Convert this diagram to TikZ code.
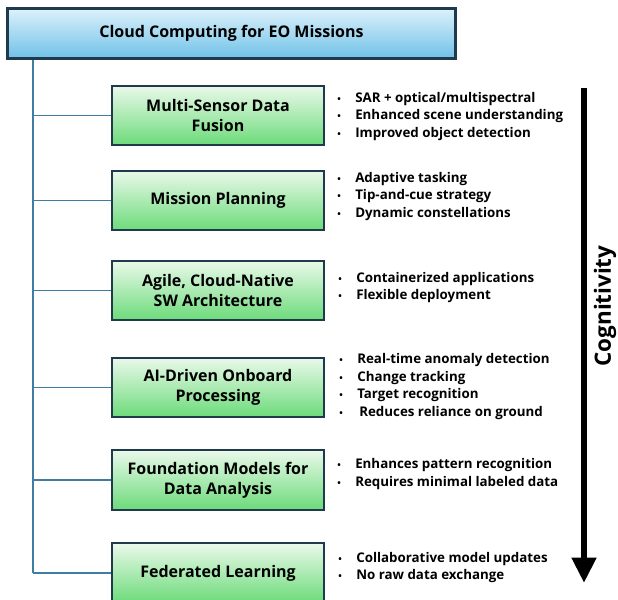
\documentclass[tikz,border=0pt]{standalone}
\usepackage{fontspec}
\setmainfont{Open Sans}
\usetikzlibrary{arrows.meta}
\definecolor{boxline}{HTML}{1E3A4C}
\definecolor{trunkline}{HTML}{3F7DA3}
\definecolor{bluetop}{HTML}{DDF1FB}
\definecolor{bluebot}{HTML}{6FC1E8}
\definecolor{greentop}{HTML}{EAF9EA}
\definecolor{greenbot}{HTML}{6CDB7A}
\newcommand{\itm}{\makebox[13.5pt][l]{\fontsize{7}{7}\selectfont\textbullet}}
\tikzset{
  topbox/.style={draw=boxline,line width=1.6pt,top color=bluetop,bottom color=bluebot,
    minimum width=336pt,minimum height=37.5pt,font=\bfseries\fontsize{12}{12}\selectfont},
  taskbox/.style={draw=boxline,line width=1.5pt,top color=greentop,bottom color=greenbot,
    minimum width=159.5pt,minimum height=44.5pt,align=center,font=\bfseries\fontsize{12}{15}\selectfont},
  points/.style={anchor=west,align=left,inner sep=0pt,font=\bfseries\fontsize{10}{13.1}\selectfont},
  branch/.style={draw=trunkline,line width=1.1pt}
}
\begin{document}
\begin{tikzpicture}[x=0.75pt,y=-0.75pt]
  \useasboundingbox (0,0) rectangle (618,600);
  \clip (0,0) rectangle (618,600);
  % kopf
  \node[topbox] (cloud) at (231.5,33.5) {Cloud Computing for EO Missions};
  % aufgaben
  \node[taskbox] (fusion)   at (218,115.5) {Multi-Sensor Data\\Fusion};
  \node[taskbox] (planning) at (218,200.5) {Mission Planning};
  \node[taskbox] (arch)     at (218,290.5) {Agile, Cloud-Native\\SW Architecture};
  \node[taskbox] (onboard)  at (218,387.5) {AI-Driven Onboard\\Processing};
  \node[taskbox] (found)    at (218,480)   {Foundation Models for\\Data Analysis};
  \node[taskbox] (fedlearn) at (218,573)   {Federated Learning};
  % stamm
  \coordinate (trunk) at (33,59);
  \draw[branch] (cloud.south -| trunk) -- (fedlearn.west -| trunk);
  \foreach \n in {fusion,planning,arch,onboard,found,fedlearn}
    \draw[branch] (\n.west -| trunk) -- (\n.west);
  % stichpunkte
  \node[points] (fusionlist) at (337,116.5) {\itm SAR + optical/multispectral\\\itm Enhanced scene understanding\\\itm Improved object detection};
  \node[points] (planlist) at (337,196.5) {\itm Adaptive tasking\\\itm Tip-and-cue strategy\\\itm Dynamic constellations};
  \node[points] (archlist) at (338,287.5) {\itm Containerized applications\\\itm Flexible deployment};
  \node[points] (onboardlist) at (339,386.5) {\itm Real-time anomaly detection\\\itm Change tracking\\\itm Target recognition\\\itm\hspace{1.5pt}Reduces reliance on ground};
  \node[points] (foundlist) at (337,474) {\itm Enhances pattern recognition\\\itm Requires minimal labeled data};
  \node[points] (fedlist) at (338,567.5) {\itm Collaborative model updates\\\itm No raw data exchange};
  % pfeil
  \coordinate (arrtop) at (584,88);
  \coordinate (arrtip) at (584,583);
  \draw[line width=5.2pt,-{Triangle[width=17.5pt,length=19pt]}] (arrtop) -- (arrtip);
  \node[rotate=90,font=\bfseries\fontsize{16.8}{18}\selectfont] (cog) at (605,306) {Cognitivity};
\end{tikzpicture}
\end{document}
